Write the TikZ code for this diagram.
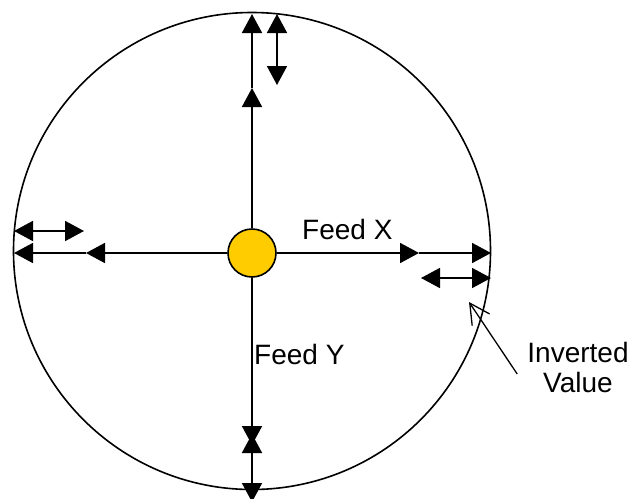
\documentclass[tikz,border=0pt]{standalone}
\usepackage{fontspec}
\setmainfont{Liberation Sans}
\usepackage{xcolor}
\usetikzlibrary{arrows.meta}
\definecolor{hubyellow}{HTML}{FFCC00}

\begin{document}
\begin{tikzpicture}[x=1pt, y=-1pt,
    feed/.style={line width=1.8pt, -{Triangle[length=19pt, width=20pt]}},
    twoway/.style={line width=1.8pt, {Triangle[length=19pt, width=20pt]}-{Triangle[length=19pt, width=20pt]}},
    txt/.style={font=\fontsize{28}{30}\selectfont, inner sep=0pt}]
    \useasboundingbox (0,0) rectangle (631,498);

    % 外圆
    \draw[line width=1.6pt] (252,251) circle (238.5pt);

    % 中心
    \node[circle, draw, line width=1.6pt, fill=hubyellow, minimum size=48pt, inner sep=0pt] (hub) at (252,253) {};

    % 端点
    \coordinate (top) at (252,14);
    \coordinate (topmid) at (252,88);
    \coordinate (left) at (14,253);
    \coordinate (leftmid) at (86,253);
    \coordinate (right) at (491,253);
    \coordinate (rightmid) at (419,253);
    \coordinate (bottom) at (252,502);
    \coordinate (bottommid) at (252,445);
    \coordinate (bottomback) at (252,434);

    % 上
    \draw[feed] (hub) -- (topmid);
    \draw[feed] (topmid) -- (top);
    \draw[twoway] (277,14) -- (277,85);

    % 左
    \draw[feed] (hub) -- (leftmid);
    \draw[feed] (leftmid) -- (left);
    \draw[twoway] (14,231) -- (84,231);

    % 右
    \draw[feed] (hub) -- (rightmid);
    \draw[feed] (rightmid) -- (right);
    \draw[twoway] (421,278) -- (491,278);

    % 下
    \draw[feed] (hub) -- (bottommid);
    \draw[twoway] (bottomback) -- (bottom);

    % 文字
    \node[txt, anchor=base west] (feedx) at (302,239) {Feed X};
    \node[txt, anchor=base west] (feedy) at (254,364) {Feed Y};
    \node[txt, align=center, inner sep=10pt] (inv) at (578,367) {Inverted\\Value};
    \coordinate (invtip) at (469,302);
    \draw[line width=1.3pt, -{Straight Barb[length=20pt, width=21pt]}] ([yshift=-7pt]inv.west) -- (invtip);
\end{tikzpicture}
\end{document}
